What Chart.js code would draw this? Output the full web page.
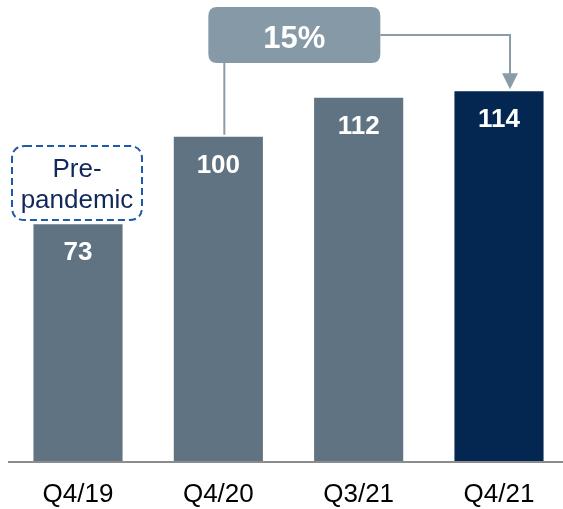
<!DOCTYPE html>
<html>
<head>
<meta charset="utf-8">
<script src="https://cdn.jsdelivr.net/npm/chart.js@4"></script>
<style>
  html, body { margin: 0; padding: 0; background: #fff; }
  #wrap { width: 563px; height: 509px; }
</style>
</head>
<body>
<div id="wrap"><canvas id="chart" width="563" height="509"></canvas></div>
<script>
var quarters = ["Q4/19", "Q4/20", "Q3/21", "Q4/21"];
var indexValues = [73, 100, 112, 114];
var barColors = ["#5f7382", "#5f7382", "#5f7382", "#032750"];
var growthLabel = "15%";
var noteLines = ["Pre-", "pandemic"];

var FONT = "'Liberation Sans', Arial, sans-serif";

function roundRect(ctx, x, y, w, h, r) {
    ctx.beginPath();
    ctx.moveTo(x + r, y);
    ctx.lineTo(x + w - r, y);
    ctx.quadraticCurveTo(x + w, y, x + w, y + r);
    ctx.lineTo(x + w, y + h - r);
    ctx.quadraticCurveTo(x + w, y + h, x + w - r, y + h);
    ctx.lineTo(x + r, y + h);
    ctx.quadraticCurveTo(x, y + h, x, y + h - r);
    ctx.lineTo(x, y + r);
    ctx.quadraticCurveTo(x, y, x + r, y);
    ctx.closePath();
}

var extras = {
    id: "extras",
    afterDatasetsDraw: function (chart) {
        var ctx = chart.ctx;
        var xs = chart.scales.x;
        var ys = chart.scales.y;
        var meta = chart.getDatasetMeta(0);

        ctx.save();

        // baseline across the full width
        ctx.strokeStyle = "#8c8c8c";
        ctx.lineWidth = 2;
        ctx.beginPath();
        ctx.moveTo(8, ys.getPixelForValue(0) + 1);
        ctx.lineTo(chart.width, ys.getPixelForValue(0) + 1);
        ctx.stroke();

        // value labels inside bars
        ctx.fillStyle = "#ffffff";
        ctx.font = "bold 26px " + FONT;
        ctx.textAlign = "center";
        ctx.textBaseline = "middle";
        meta.data.forEach(function (bar, i) {
            ctx.fillText(String(indexValues[i]), bar.x, bar.y + 29);
        });

        // growth callout: Q4/20 -> Q4/21
        var x20 = xs.getPixelForValue(1);
        var x21 = xs.getPixelForValue(3);
        var top20 = ys.getPixelForValue(indexValues[1]);
        var top21 = ys.getPixelForValue(indexValues[3]);
        var boxL = x20 - 10, boxR = x20 + 162, boxT = 7, boxB = 63;
        var lineY = 35;
        var arrowX = x21 + 11;

        ctx.strokeStyle = "#8a9ca8";
        ctx.lineWidth = 2;
        ctx.beginPath();
        ctx.moveTo(x20 + 6, boxB);
        ctx.lineTo(x20 + 6, top20 - 2);
        ctx.moveTo(boxR, lineY);
        ctx.lineTo(arrowX, lineY);
        ctx.lineTo(arrowX, top21 - 17);
        ctx.stroke();

        ctx.fillStyle = "#8a9ca8";
        ctx.beginPath();
        ctx.moveTo(arrowX - 8, top21 - 18);
        ctx.lineTo(arrowX + 8, top21 - 18);
        ctx.lineTo(arrowX, top21 - 2);
        ctx.closePath();
        ctx.fill();

        ctx.fillStyle = "#8599a6";
        roundRect(ctx, boxL, boxT, boxR - boxL, boxB - boxT, 9);
        ctx.fill();
        ctx.fillStyle = "#ffffff";
        ctx.font = "bold 31px " + FONT;
        ctx.fillText(growthLabel, (boxL + boxR) / 2, 39);

        // pre-pandemic dashed note above Q4/19
        var x19 = xs.getPixelForValue(0);
        ctx.strokeStyle = "#1e5aa8";
        ctx.lineWidth = 2;
        ctx.setLineDash([7, 4]);
        roundRect(ctx, x19 - 66, 146, 130, 74, 13);
        ctx.stroke();
        ctx.setLineDash([]);
        ctx.fillStyle = "#10285a";
        ctx.font = "26px " + FONT;
        ctx.fillText(noteLines[0], x19 - 1, 170);
        ctx.fillText(noteLines[1], x19 - 1, 201);

        ctx.restore();
    }
};

new Chart(document.getElementById("chart"), {
    type: "bar",
    data: {
        labels: quarters,
        datasets: [{
            data: indexValues,
            backgroundColor: barColors,
            borderWidth: 0,
            barPercentage: 0.635,
            categoryPercentage: 1,
            clip: false
        }]
    },
    options: {
        responsive: false,
        animation: false,
        layout: { padding: { left: 78, right: 64, top: 7, bottom: 0 } },
        plugins: {
            legend: { display: false },
            tooltip: { enabled: false }
        },
        scales: {
            x: {
                offset: false,
                grid: { display: false, drawTicks: false },
                border: { display: false },
                ticks: {
                    color: "#000000",
                    font: { size: 26, family: FONT },
                    padding: 18,
                    maxRotation: 0,
                    autoSkip: false
                },
                afterFit: function (scale) { scale.height = 48; }
            },
            y: {
                display: false,
                min: 0,
                max: 140
            }
        }
    },
    plugins: [extras]
});
</script>
</body>
</html>
